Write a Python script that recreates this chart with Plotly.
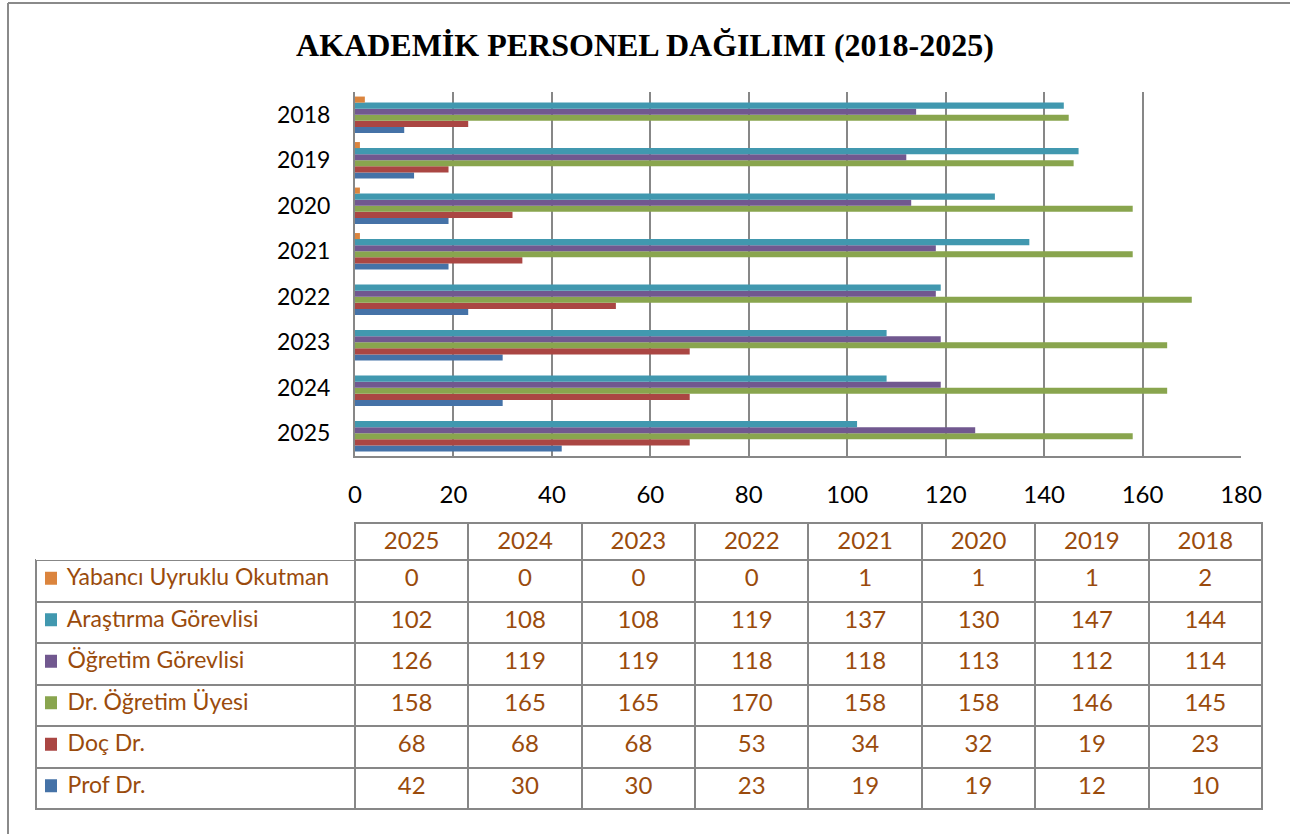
import plotly.graph_objects as go

W, H = 1290, 834

years = ["2018", "2019", "2020", "2021", "2022", "2023", "2024", "2025"]
series_names = ["Prof Dr.", "Doç Dr.", "Dr. Öğretim Üyesi", "Öğretim Görevlisi",
                "Araştırma Görevlisi", "Yabancı Uyruklu Okutman"]
prof = [10, 12, 19, 19, 23, 30, 30, 42]
doc = [23, 19, 32, 34, 53, 68, 68, 68]
dr_ogr_uyesi = [145, 146, 158, 158, 170, 165, 165, 158]
ogr_gorevlisi = [114, 112, 113, 118, 118, 119, 119, 126]
ars_gorevlisi = [144, 147, 130, 137, 119, 108, 108, 102]
yabanci = [2, 1, 1, 1, 0, 0, 0, 0]
series_values = [prof, doc, dr_ogr_uyesi, ogr_gorevlisi, ars_gorevlisi, yabanci]
colors = ["#4572A7", "#AA4643", "#89A54E", "#71588F", "#4198AF", "#DB843D"]
x_ticks = [0, 20, 40, 60, 80, 100, 120, 140, 160, 180]

TEXT_BROWN = "#9A4B0C"
GRID = "#878787"
FONT = "Lato"

def px_x(p):
    return p / W

def px_y(p):
    return 1 - p / H

fig = go.Figure()
for name, vals, col in zip(series_names, series_values, colors):
    fig.add_trace(go.Bar(
        y=years, x=vals, name=name, orientation="h",
        marker=dict(color=col, line=dict(width=0)),
        xaxis="x", yaxis="y", showlegend=False,
    ))

# Data table (columns 2025 -> 2018, rows top to bottom Yabancı -> Prof)
TABLE_LEFT, TABLE_RIGHT, TABLE_TOP, TABLE_BOTTOM = 36, 1262, 523, 812
HEADER_H, CELL_H = 37, 41.5
table_years = years[::-1]
row_order = list(range(len(series_names)))[::-1]
first_col = ["\u00a0" * 4 + series_names[i] for i in row_order]
cols = [first_col]
for y in table_years:
    idx = years.index(y)
    cols.append([str(series_values[i][idx]) for i in row_order])

fig.add_trace(go.Table(
    domain=dict(x=[px_x(TABLE_LEFT), px_x(TABLE_RIGHT)],
                y=[px_y(TABLE_BOTTOM), px_y(TABLE_TOP)]),
    columnwidth=[319] + [113.4] * len(table_years),
    header=dict(
        values=[""] + table_years,
        fill_color="white",
        line=dict(color=["rgba(0,0,0,0)"] + [GRID] * len(table_years), width=2),
        font=dict(family=FONT, size=24, color=TEXT_BROWN),
        align="center",
        height=HEADER_H,
    ),
    cells=dict(
        values=cols,
        fill_color="white",
        line=dict(color=GRID, width=2),
        font=dict(family=FONT, size=[23] + [24] * len(table_years), color=TEXT_BROWN),
        align=["left"] + ["center"] * len(table_years),
        height=CELL_H,
    ),
))

# legend keys in first table column
shapes = []
for k, i in enumerate(row_order):
    cy = TABLE_TOP + HEADER_H + CELL_H * k + CELL_H / 2 - 2
    shapes.append(dict(type="rect", xref="paper", yref="paper",
                       x0=px_x(45), x1=px_x(57), y0=px_y(cy + 6), y1=px_y(cy - 7),
                       fillcolor=colors[i], line=dict(width=0)))

shapes += [
    dict(type="line", xref="paper", yref="paper",
         x0=px_x(8), x1=px_x(8), y0=0, y1=px_y(3),
         line=dict(color="#8a8a8a", width=2)),
    dict(type="line", xref="paper", yref="paper",
         x0=px_x(8), x1=1, y0=px_y(3), y1=px_y(3),
         line=dict(color="#8a8a8a", width=2)),
]

fig.update_layout(
    width=W, height=H,
    margin=dict(l=0, r=0, t=0, b=0, autoexpand=False),
    paper_bgcolor="white", plot_bgcolor="white",
    barmode="group", bargap=0.2, bargroupgap=0,
    title=dict(
        text="<b>AKADEMİK PERSONEL DAĞILIMI (2018-2025)</b>",
        font=dict(family="Liberation Serif", size=32, color="black"),
        x=0.5, xanchor="center", y=px_y(45), yanchor="middle",
    ),
    xaxis=dict(
        domain=[px_x(355), px_x(1241)],
        range=[0, 180], tickvals=x_ticks, ticktext=[str(t) for t in x_ticks],
        showgrid=True, gridcolor=GRID, gridwidth=2,
        showline=True, linecolor=GRID, linewidth=2,
        zeroline=False, ticks="", ticklabelstandoff=16,
        tickfont=dict(family=FONT, size=24, color="black"),
        anchor="y", automargin=False,
    ),
    yaxis=dict(
        domain=[px_y(456), px_y(92)],
        type="category", categoryorder="array", categoryarray=years[::-1],
        showgrid=False, showline=True, linecolor=GRID, linewidth=2,
        ticks="", ticklabelstandoff=18,
        tickfont=dict(family=FONT, size=23, color="black"),
        anchor="x", automargin=False,
    ),
    shapes=shapes,
)

fig.write_html(
    "out.html",
    config={"displayModeBar": False},
    post_script="document.body.style.margin='0';document.body.style.overflow='hidden';",
)
